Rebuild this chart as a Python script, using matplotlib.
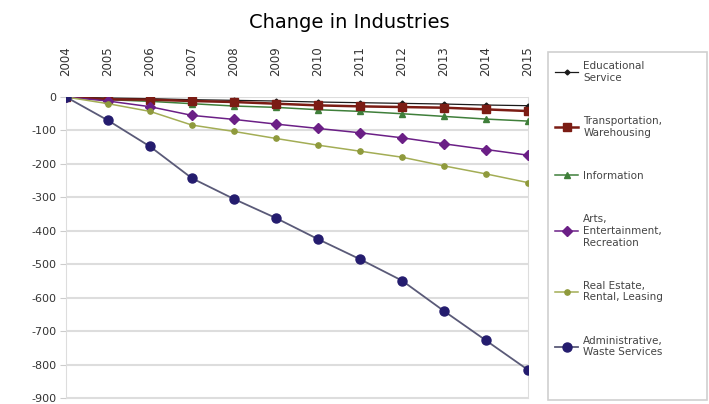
import numpy as np
import matplotlib.pyplot as plt
from matplotlib.patches import Rectangle

plt.rcParams['axes.unicode_minus'] = False
plt.rcParams['font.family'] = ['DejaVu Sans']

# Data
years = ['2004', '2005', '2006', '2007', '2008', '2009',
         '2010', '2011', '2012', '2013', '2014', '2015']
educational = [0, -3, -5, -8, -10, -12, -15, -17, -19, -21, -24, -26]
transportation = [0, -7, -8, -12, -15, -20, -25, -28, -30, -32, -37, -42]
information = [0, -8, -13, -20, -27, -31, -38, -43, -50, -58, -66, -72]
arts = [0, -12, -29, -55, -67, -81, -94, -107, -122, -140, -157, -174]
real_estate = [0, -20, -43, -84, -103, -124, -144, -162, -180, -206, -230, -256]
admin = [0, -70, -148, -243, -305, -362, -425, -485, -549, -640, -728, -816]
yticks = [0, -100, -200, -300, -400, -500, -600, -700, -800, -900]

x = np.arange(len(years))

fig = plt.figure(figsize=(7.09, 4.04), dpi=100)
ax = fig.add_axes([66 / 709, 1 - 398 / 404, (528 - 66) / 709, (398 - 97) / 404])

ax.plot(x, educational, color='#1a1a1a', lw=0.9, marker='D', ms=2.5,
        label='Educational\nService', zorder=3)
ax.plot(x, transportation, color='#7b1c14', lw=1.8, marker='s', ms=5.5,
        label='Transportation,\nWarehousing', zorder=3)
ax.plot(x, information, color='#3f7f3a', lw=1.1, marker='^', ms=5,
        label='Information', zorder=2.9)
ax.plot(x, arts, color='#6b1f86', lw=1.1, marker='D', ms=5,
        label='Arts,\nEntertainment,\nRecreation', zorder=3)
ax.plot(x, real_estate, color='#a3ad55', lw=1.1, marker='o', ms=3.8,
        mfc='#8f9a3c', mec='#8f9a3c', label='Real Estate,\nRental, Leasing', zorder=3)
ax.plot(x, admin, color='#5a5a78', lw=1.3, marker='o', ms=6.5,
        mfc='#241c6e', mec='#241c6e', label='Administrative,\nWaste Services', zorder=4)

ax.set_xlim(0, len(years) - 1)
ax.set_ylim(-900, 0)
ax.set_yticks(yticks)
ax.set_yticklabels([str(v) for v in yticks], fontsize=8, color='#333333')
ax.set_xticks(x)
ax.set_xticklabels(years, rotation=90, fontsize=8.5, color='#333333')
ax.xaxis.tick_top()
ax.tick_params(axis='x', length=0, pad=15)
ax.tick_params(axis='y', length=4, color='#cccccc', pad=3)

ax.grid(axis='y', color='#dddddd', lw=1.5)
ax.set_axisbelow(True)
for side in ['left', 'right', 'bottom', 'top']:
    ax.spines[side].set_color('#dddddd')
ax.spines['top'].set_visible(False)

fig.text(349 / 709, 1 - 23 / 404, 'Change in Industries', fontsize=14,
         ha='center', va='center', color='black')

# legend frame
fig.patches.append(Rectangle((548 / 709, 4 / 404), 159 / 709, 348 / 404,
                             transform=fig.transFigure, fill=False,
                             edgecolor='#d0d0d0', lw=1.2))

leg = fig.legend(loc='upper left',
                 bbox_to_anchor=(552 / 709, 1 - 58 / 404),
                 borderaxespad=0, frameon=False,
                 fontsize=7.5, handlelength=2.2, handletextpad=0.5,
                 labelspacing=3.2, borderpad=0.3, labelcolor='#444444')

fig.savefig('out.png', dpi=100)
